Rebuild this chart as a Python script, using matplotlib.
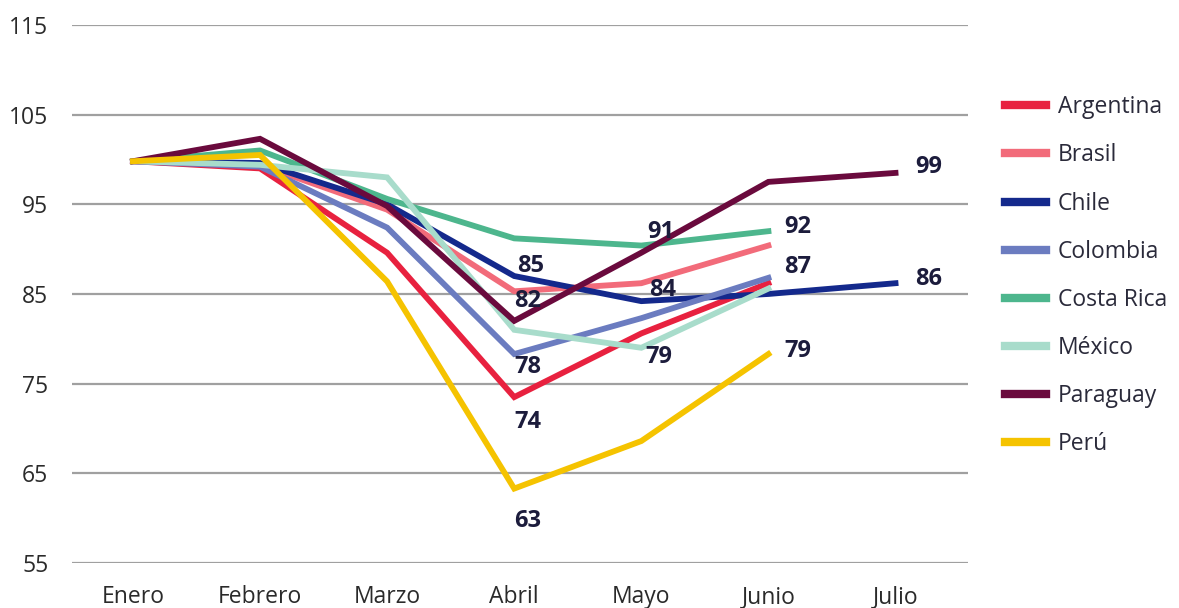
import matplotlib
matplotlib.use("Agg")
import matplotlib.pyplot as plt

plt.rcParams["font.family"] = ["Open Sans", "DejaVu Sans"]

# =========================
# DATA
# =========================
months = ["Enero", "Febrero", "Marzo", "Abril", "Mayo", "Junio", "Julio"]

argentina = [99.8, 99.0, 89.6, 73.5, 80.6, 86.2]
brasil = [99.8, 99.4, 94.4, 85.3, 86.2, 90.4]
chile = [99.8, 99.6, 95.0, 87.0, 84.2, 85.0, 86.2]
colombia = [99.8, 99.2, 92.4, 78.3, 82.3, 86.8]
costa_rica = [99.8, 101.0, 95.6, 91.2, 90.4, 92.0]
mexico = [99.8, 99.4, 98.0, 81.0, 79.0, 85.6]
paraguay = [99.8, 102.3, 94.8, 82.0, 89.6, 97.5, 98.5]
peru = [99.8, 100.5, 86.4, 63.3, 68.6, 78.3]

series = {
    "Argentina": argentina,
    "Brasil": brasil,
    "Chile": chile,
    "Colombia": colombia,
    "Costa Rica": costa_rica,
    "México": mexico,
    "Paraguay": paraguay,
    "Perú": peru,
}
colors = {
    "Argentina": "#e8213f",
    "Brasil": "#f26b7a",
    "Chile": "#14298c",
    "Colombia": "#6b7cc0",
    "Costa Rica": "#4db68d",
    "México": "#a8dccb",
    "Paraguay": "#6a0a3d",
    "Perú": "#f5c300",
}

# value labels: (series, month index, text, dx pt, dy pt)
labels = [
    ("Chile", 3, "85", 12, 7),
    ("Paraguay", 3, "82", 10, 14),
    ("Colombia", 3, "78", 10, -9),
    ("Argentina", 3, "74", 10, -18),
    ("Perú", 3, "63", 10, -23),
    ("Paraguay", 4, "91", 14, 15),
    ("Chile", 4, "84", 15, 8),
    ("México", 4, "79", 13, -7),
    ("Costa Rica", 5, "92", 21, 3),
    ("Colombia", 5, "87", 21, 8),
    ("Perú", 5, "79", 21, 2),
    ("Paraguay", 6, "99", 24, 4),
    ("Chile", 6, "86", 24, 3),
]

# =========================
# PLOT
# =========================
fig = plt.figure(figsize=(11.79, 6.08), dpi=100)
ax = fig.add_axes([0.061, 0.074, 0.76, 0.885])

for name, vals in series.items():
    ax.plot(range(len(vals)), vals, color=colors[name], linewidth=4.2,
            solid_joinstyle="miter", label=name)

for name, i, txt, dx, dy in labels:
    ax.annotate(txt, (i, series[name][i]), xytext=(dx, dy),
                textcoords="offset points", ha="center", va="center",
                fontsize=17, fontweight="bold", color="#1c1c3c")

ax.set_ylim(55, 115)
ax.set_yticks(range(55, 116, 10))
ax.set_xlim(-0.48, 6.57)
ax.set_xticks(range(len(months)))
ax.set_xticklabels(months)
ax.grid(axis="y", color="#a0a0a0", linewidth=1.6)
ax.set_axisbelow(True)
for s in ax.spines.values():
    s.set_visible(False)
ax.tick_params(axis="both", length=0, labelsize=16.5, colors="#2a2a2a")
ax.tick_params(axis="y", pad=17)
ax.tick_params(axis="x", pad=16)

fig.legend(loc="upper left", bbox_to_anchor=(0.835, 0.877), frameon=False,
           fontsize=16.5, handlelength=1.8, handletextpad=0.5,
           labelspacing=1.05, labelcolor="#2a2a3a")
for line in fig.legends[0].get_lines():
    line.set_linewidth(6)

fig.savefig("out.png", dpi=100)
